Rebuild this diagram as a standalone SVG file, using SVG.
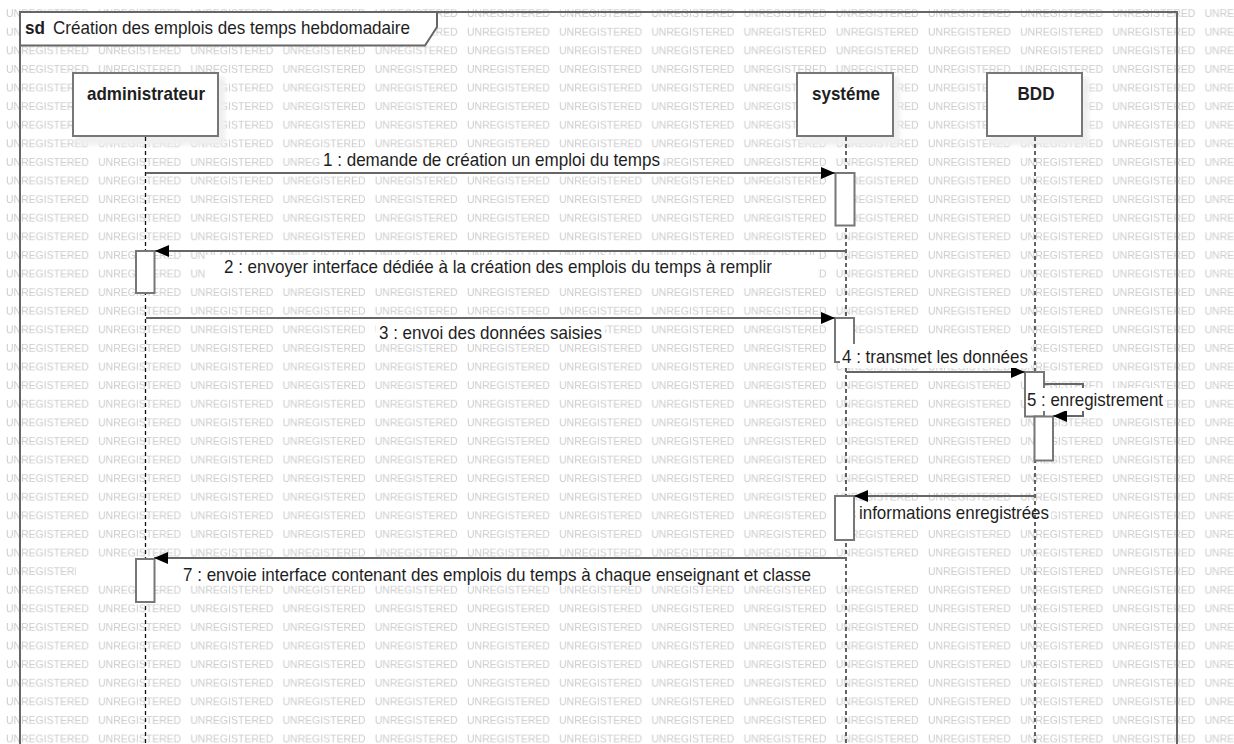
<svg xmlns="http://www.w3.org/2000/svg" width="1234" height="744" viewBox="0 0 1234 744">
  <defs>
    <style>
      .wm { font-family: "Liberation Sans", Arial, sans-serif; font-size: 11.5px; fill: #cbcbcb; }
      .lbl { font-family: "Liberation Sans", Arial, sans-serif; font-size: 18.5px; fill: #1e1e1e; }
      .bold { font-weight: bold; }
      .frame { fill: none; stroke: #666; stroke-width: 2; }
      .tab { fill: #fff; stroke: #666; stroke-width: 2; }
      .head { fill: #fff; stroke: #777; stroke-width: 2; }
      .shadow { fill: #efefef; filter: url(#soft); }
      .life { stroke: #111; stroke-width: 1.3; stroke-dasharray: 4 3; fill: none; }
      .act { fill: #fff; stroke: #777; stroke-width: 2; }
      .msg { stroke: #666; stroke-width: 2; fill: none; marker-end: url(#arrow); }
      .bg { fill: #fff; }
    </style>
    <filter id="soft" x="-20%" y="-20%" width="140%" height="140%">
      <feGaussianBlur stdDeviation="2"/>
    </filter>
    <pattern id="wmark" patternUnits="userSpaceOnUse" x="6" y="4.3" width="92.2" height="18.6">
      <text class="wm" x="0" y="12.5" textLength="83" lengthAdjust="spacingAndGlyphs">UNREGISTERED</text>
    </pattern>
    <marker id="arrow" markerUnits="userSpaceOnUse" markerWidth="14" markerHeight="12" refX="14" refY="6" orient="auto">
      <path d="M0,0 L14,6 L0,12 Z" fill="#000"/>
    </marker>
  </defs>

  <!-- canvas and tiled watermark -->
  <rect width="1234" height="744" fill="#fff"/>
  <rect width="1234" height="744" fill="url(#wmark)"/>

  <!-- sequence frame -->
  <g id="frame">
    <path class="frame" d="M20,12 H1177 V750 M20,12 V750"/>
    <path class="tab" d="M20,12 H437 V27 L425,45.5 H20 Z"/>
    <text class="lbl bold" x="25" y="33.5" textLength="20" lengthAdjust="spacingAndGlyphs">sd</text>
    <text class="lbl" x="53" y="33.5" textLength="357" lengthAdjust="spacingAndGlyphs">Création des emplois des temps hebdomadaire</text>
  </g>

  <!-- label backings that sit under the lifelines -->
  <g id="label-backings">
    <rect class="bg" x="320" y="148" width="343" height="23"/>
    <rect class="bg" x="205" y="255" width="613" height="23"/>
    <rect class="bg" x="376" y="321" width="229" height="23"/>
    <rect class="bg" x="856" y="501" width="195" height="23"/>
    <rect class="bg" x="76" y="563" width="848" height="22"/>
  </g>

  <!-- lifeline: administrateur -->
  <g id="administrateur">
    <rect class="shadow" x="76" y="77" width="149" height="68"/>
    <rect class="head" x="73" y="73" width="145" height="63"/>
    <text class="lbl bold" x="87" y="100" textLength="118" lengthAdjust="spacingAndGlyphs">administrateur</text>
    <line class="life" x1="145.5" y1="137" x2="145.5" y2="744"/>
    <rect class="act" x="136" y="251" width="18.5" height="42"/>
    <rect class="act" x="136" y="559" width="18.5" height="43"/>
  </g>

  <!-- lifeline: systéme -->
  <g id="systeme">
    <rect class="shadow" x="800" y="77" width="100" height="68"/>
    <rect class="head" x="797" y="73" width="96" height="63"/>
    <text class="lbl bold" x="812" y="100" textLength="68" lengthAdjust="spacingAndGlyphs">systéme</text>
    <line class="life" x1="846" y1="137" x2="846" y2="744"/>
    <rect class="act" x="835.5" y="173" width="19" height="52.5"/>
    <rect class="act" x="835" y="318" width="19" height="44"/>
    <rect class="act" x="835" y="496" width="19" height="44"/>
  </g>

  <!-- lifeline: BDD -->
  <g id="bdd">
    <rect class="shadow" x="990" y="77" width="99" height="68"/>
    <rect class="head" x="987" y="73" width="95" height="63"/>
    <text class="lbl bold" x="1017.5" y="100" textLength="37" lengthAdjust="spacingAndGlyphs">BDD</text>
    <line class="life" x1="1035" y1="137" x2="1035" y2="744"/>
    <rect class="act" x="1025" y="372" width="19" height="44.5"/>
    <rect class="act" x="1034.5" y="416.5" width="18.5" height="44"/>
  </g>

  <!-- messages -->
  <g id="messages">
    <path class="msg" d="M146,173 H835"/>
    <path class="msg" d="M846,251 H155"/>
    <path class="msg" d="M146,318 H835"/>
    <path class="msg" d="M846,372 H1025"/>
    <path class="msg" d="M1044,384 H1083 V416 H1053"/>
    <path class="msg" d="M1035,496 H854"/>
    <path class="msg" d="M846,558 H154"/>

    <text class="lbl" x="323" y="165.5" textLength="337" lengthAdjust="spacingAndGlyphs">1 : demande de création un emploi du temps</text>
    <text class="lbl" x="224" y="272.5" textLength="548" lengthAdjust="spacingAndGlyphs">2 : envoyer interface dédiée à la création des emplois du temps à remplir</text>
    <text class="lbl" x="379" y="338.5" textLength="223" lengthAdjust="spacingAndGlyphs">3 : envoi des données saisies</text>

    <rect class="bg" x="840" y="344" width="191" height="24"/>
    <text class="lbl" x="842" y="363" textLength="186" lengthAdjust="spacingAndGlyphs">4 : transmet les données</text>

    <rect class="bg" x="1027" y="388" width="138" height="23"/>
    <text class="lbl" x="1027" y="405.5" textLength="136" lengthAdjust="spacingAndGlyphs">5 : enregistrement</text>

    <text class="lbl" x="859" y="518.5" textLength="190" lengthAdjust="spacingAndGlyphs">informations enregistrées</text>
    <text class="lbl" x="183" y="581" textLength="628" lengthAdjust="spacingAndGlyphs">7 : envoie interface contenant des emplois du temps à chaque enseignant et classe</text>
  </g>
</svg>
